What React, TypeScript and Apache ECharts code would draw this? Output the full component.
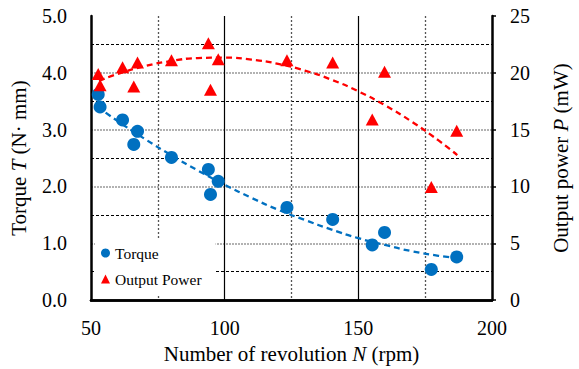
import React, { useEffect, useRef } from "react";
import * as echarts from "echarts";

// Measured data (rpm, N·mm, mW)
const revolutions = [52.7, 53.4, 61.8, 67.4, 66.0, 80.1, 93.9, 97.6, 94.7, 123.3, 140.4, 155.2, 159.8, 177.3, 186.8];
const torque = [3.62, 3.40, 3.17, 2.97, 2.74, 2.51, 2.30, 2.09, 1.86, 1.63, 1.42, 0.97, 1.19, 0.54, 0.76];
const power = [19.9, 18.9, 20.5, 20.9, 18.8, 21.1, 22.6, 21.2, 18.5, 21.1, 20.9, 15.9, 20.1, 9.95, 14.9];

// Trend lines
const torqueTrendN = [52.5, 60, 70, 80, 90, 100, 110, 120, 130, 140, 150, 160, 170, 180, 187];
const torqueTrendT = [3.40, 3.15, 2.84, 2.55, 2.28, 2.03, 1.80, 1.59, 1.41, 1.24, 1.09, 0.97, 0.86, 0.78, 0.74];
const powerTrendN = [53, 60, 70, 80, 90, 100, 110, 120, 130, 140, 150, 160, 170, 180, 187];
const powerTrendP = [19.3, 19.9, 20.58, 21.04, 21.3, 21.34, 21.17, 20.79, 20.2, 19.39, 18.37, 17.14, 15.7, 14.05, 12.76];

const FONT = "Liberation Serif";
const BLUE = "#0070C0";
const RED = "#FF0000";

export default function App() {
  const ref = useRef<HTMLDivElement>(null);
  useEffect(() => {
    if (!ref.current) return;
    const chart = echarts.init(ref.current, null, { renderer: "svg" });
    const zip = (a: number[], b: number[]) => a.map((v, i) => [v, b[i]]);
    const nameStyle = {
      fontFamily: FONT,
      fontSize: 21,
      color: "#000",
      rich: {
        n: { fontFamily: FONT, fontSize: 21, color: "#000" },
        i: { fontFamily: FONT, fontSize: 21, fontStyle: "italic", color: "#000" },
      },
    };
    chart.setOption({
      animation: false,
      backgroundColor: "#fff",
      textStyle: { fontFamily: FONT },
      grid: { left: 88, right: 79, top: 16, bottom: 64, containLabel: false },
      legend: {
        data: [
          { name: "Torque", icon: "circle" },
          { name: "Output Power", icon: "triangle" },
        ],
        orient: "vertical",
        left: 95,
        top: 238,
        padding: [6, 14, 6, 6],
        backgroundColor: "#fff",
        itemWidth: 9,
        itemHeight: 9,
        itemGap: 8,
        textStyle: { fontFamily: FONT, fontSize: 15.5, color: "#000", lineHeight: 18 },
      },
      xAxis: [
        {
          type: "value",
          min: 50,
          max: 200,
          interval: 50,
          name: "{n|Number of revolution }{i|N}{n| (rpm)}",
          nameLocation: "middle",
          nameGap: 40,
          nameTextStyle: nameStyle,
          axisLine: { show: true, lineStyle: { color: "#000", width: 2.5 } },
          axisTick: { show: false },
          axisLabel: { fontFamily: FONT, fontSize: 20, color: "#000", margin: 18 },
          splitLine: {
            show: true,
            showMinLine: false,
            showMaxLine: false,
            lineStyle: { color: "#000", width: 1.2, type: "solid" },
          },
          minorTick: { show: false, splitNumber: 2 },
          minorSplitLine: { show: true, lineStyle: { color: "#555", width: 1.3, type: [2, 2] } },
        },
        {
          type: "value",
          position: "top",
          min: 50,
          max: 200,
          interval: 50,
          axisLine: { show: true, lineStyle: { color: "#000", width: 2.5 } },
          axisTick: { show: false },
          axisLabel: { show: false },
          splitLine: { show: false },
        },
      ],
      yAxis: [
        {
          type: "value",
          min: 0,
          max: 5,
          interval: 1,
          name: "{n|Torque }{i|T}{n| (N· mm)}",
          nameLocation: "middle",
          nameRotate: 90,
          nameGap: 62,
          nameTextStyle: nameStyle,
          axisLine: { show: true, lineStyle: { color: "#000", width: 2.5 } },
          axisTick: { show: false },
          axisLabel: {
            fontFamily: FONT,
            fontSize: 20,
            color: "#000",
            margin: 24,
            formatter: (v: number) => v.toFixed(1),
          },
          splitLine: {
            show: true,
            showMinLine: false,
            showMaxLine: false,
            lineStyle: { color: "#999", width: 1.5, type: [2, 1] },
          },
          minorTick: { show: false, splitNumber: 2 },
          minorSplitLine: { show: true, lineStyle: { color: "#000", width: 1, type: [3, 2] } },
        },
        {
          type: "value",
          min: 0,
          max: 25,
          interval: 5,
          position: "right",
          name: "{n|Output power }{i|P}{n| (mW)}",
          nameLocation: "middle",
          nameRotate: 90,
          nameGap: 58,
          nameTextStyle: nameStyle,
          axisLine: { show: true, lineStyle: { color: "#000", width: 2.5 } },
          axisTick: { show: true, inside: false, length: 4, lineStyle: { color: "#000", width: 1.5 } },
          axisLabel: { fontFamily: FONT, fontSize: 20, color: "#000", margin: 18 },
          splitLine: { show: false },
        },
      ],
      series: [
        {
          name: "Torque trend",
          type: "line",
          xAxisIndex: 0,
          yAxisIndex: 0,
          data: zip(torqueTrendN, torqueTrendT),
          smooth: true,
          symbol: "none",
          silent: true,
          lineStyle: { color: BLUE, width: 2.3, type: [6, 4] },
          z: 2,
        },
        {
          name: "Power trend",
          type: "line",
          xAxisIndex: 0,
          yAxisIndex: 1,
          data: zip(powerTrendN, powerTrendP),
          smooth: true,
          symbol: "none",
          silent: true,
          lineStyle: { color: RED, width: 2.3, type: [6, 4] },
          z: 2,
        },
        {
          name: "Torque",
          type: "scatter",
          xAxisIndex: 0,
          yAxisIndex: 0,
          data: zip(revolutions, torque),
          symbol: "circle",
          symbolSize: 13,
          itemStyle: { color: BLUE, opacity: 1 },
          z: 3,
        },
        {
          name: "Output Power",
          type: "scatter",
          xAxisIndex: 0,
          yAxisIndex: 1,
          data: zip(revolutions, power),
          symbol: "triangle",
          symbolSize: [13, 12],
          itemStyle: { color: RED, opacity: 1 },
          z: 3,
        },
      ],
    });
    return () => chart.dispose();
  }, []);
  return (
    <div
      ref={ref}
      style={{ position: "fixed", left: 0, top: 0, width: 579, height: 369, background: "#fff" }}
    />
  );
}
